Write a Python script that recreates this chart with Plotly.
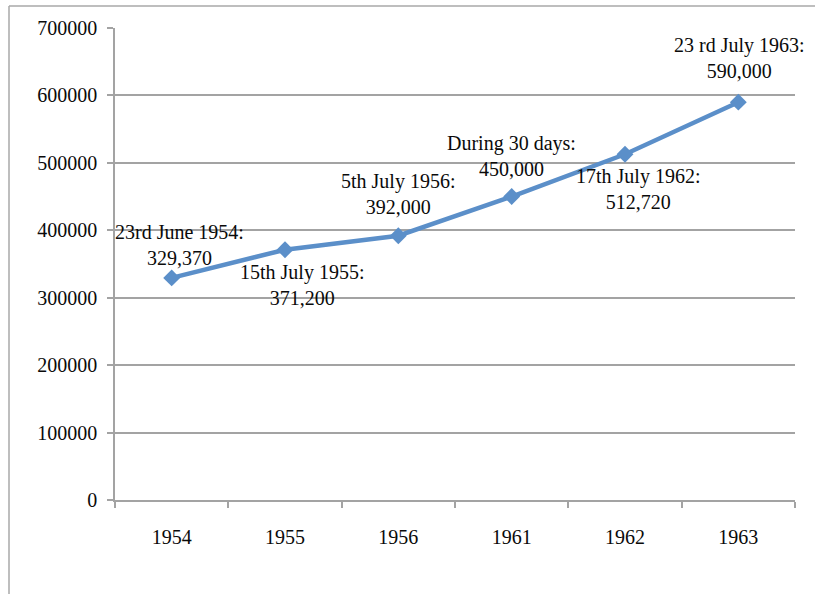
import plotly.graph_objects as go

# Categories and counts
years = ["1954", "1955", "1956", "1961", "1962", "1963"]
counts = [329370, 371200, 392000, 450000, 512720, 590000]
notes = [
    "23rd June 1954:<br>329,370",
    "15th July 1955:<br>371,200",
    "5th July 1956:<br>392,000",
    "During 30 days:<br>450,000",
    "17th July 1962:<br>512,720",
    "23 rd July 1963:<br>590,000",
]
y_ticks = [0, 100000, 200000, 300000, 400000, 500000, 600000, 700000]

# Pixel offsets of each label block from its point
label_dx = [8, 17, 0, 0, 13, 1]
label_dy = [33, -35, 42, 41, -35, 44]

FONT = "Liberation Serif"
LINE = "#5B8FC9"
GRID = "#A3A3A3"
TEXT = "#0A0A0A"

fig = go.Figure()
fig.add_trace(go.Scatter(
    x=years, y=counts, mode="lines+markers",
    line=dict(color=LINE, width=4.5),
    marker=dict(symbol="diamond", size=13, color=LINE),
    hoverinfo="x+y", showlegend=False,
))

# Category axes place items at integer positions 0..n-1
for i, (v, txt, dx, dy) in enumerate(zip(counts, notes, label_dx, label_dy)):
    fig.add_annotation(
        x=i, y=v, xref="x", yref="y", text=txt, showarrow=False,
        xanchor="center", yanchor="middle",
        xshift=dx, yshift=dy,
        font=dict(family=FONT, size=20, color=TEXT),
    )

# Outer frame of the chart area (top and left edges)
fig.add_shape(type="line", xref="paper", yref="paper",
              x0=(9 - 115) / 680, x1=(820 - 115) / 680,
              y0=(500 - 6) / 472, y1=(500 - 6) / 472,
              line=dict(color="#A8A8A8", width=1.5))
fig.add_shape(type="line", xref="paper", yref="paper",
              x0=(9 - 115) / 680, x1=(9 - 115) / 680,
              y0=(500 - 6) / 472, y1=(500 - 600) / 472,
              line=dict(color="#A8A8A8", width=1.5))

fig.update_layout(
    width=815, height=594,
    margin=dict(l=115, r=20, t=28, b=94),
    paper_bgcolor="white", plot_bgcolor="white",
    font=dict(family=FONT, size=20, color=TEXT),
    xaxis=dict(
        type="category", range=[-0.5, 5.5],
        tickson="boundaries", ticks="outside", ticklen=6,
        tickcolor=GRID, tickwidth=1.5,
        showline=True, linecolor=GRID, linewidth=1.5,
        showgrid=False, zeroline=False,
        ticklabelstandoff=18,
        tickfont=dict(family=FONT, size=20, color=TEXT),
    ),
    yaxis=dict(
        range=[0, 700000], tickvals=y_ticks,
        ticktext=[str(t) for t in y_ticks],
        ticks="outside", ticklen=6, tickcolor=GRID, tickwidth=1.5,
        showline=True, linecolor=GRID, linewidth=1.5,
        showgrid=True, gridcolor=GRID, gridwidth=1.5,
        zeroline=False,
        ticklabelstandoff=6,
        tickfont=dict(family=FONT, size=20, color=TEXT),
    ),
)

fig.write_html("out.html")
